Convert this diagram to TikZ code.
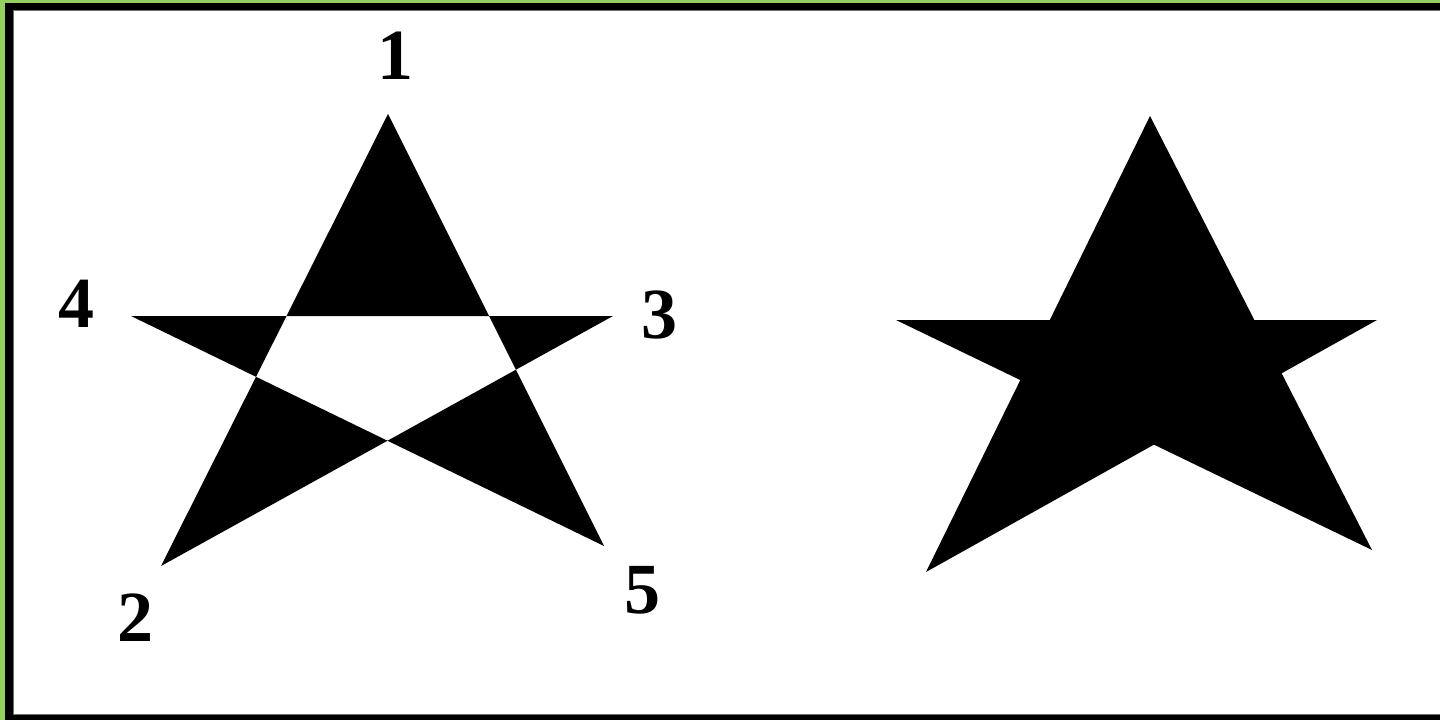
\documentclass[tikz,border=0pt]{standalone}
\usepackage{fontspec}
\setmainfont{Liberation Serif}
\definecolor{frameGreen}{RGB}{150,208,96}
\definecolor{frameGray}{RGB}{110,110,110}
\begin{document}
\begin{tikzpicture}[x=1pt,y=-1pt,
  lbl/.style={font=\fontsize{72}{72}\selectfont\bfseries, inner sep=0pt, text=black},
  starfill/.style={fill=black, draw=none}]
\useasboundingbox (0,0) rectangle (1440,720);
% frame
\fill[frameGreen] (0,0) rectangle (1440,720);
\fill[black] (5,3) rectangle (1440,720);
\fill[frameGray] (13,10) rectangle (1440,715);
\fill[white] (14,11) rectangle (1440,714);
% left star points
\coordinate (p1) at (388,114);
\coordinate (p2) at (161,566);
\coordinate (p3) at (613,316);
\coordinate (p4) at (131,316);
\coordinate (p5) at (604,546);
\fill[starfill, even odd rule] (p1) -- (p2) -- (p3) -- (p4) -- (p5) -- cycle;
% right star points
\coordinate (q1) at (1150,116);
\coordinate (q2) at (926,572);
\coordinate (q3) at (1377,320);
\coordinate (q4) at (896,320);
\coordinate (q5) at (1372,550);
\fill[starfill, nonzero rule] (q1) -- (q2) -- (q3) -- (q4) -- (q5) -- cycle;
% labels
\node[lbl] (l1) at (395,56) {1};
\node[lbl] (l4) at (76,304) {4};
\node[lbl] (l3) at (659,315) {3};
\node[lbl] (l2) at (135,618) {2};
\node[lbl] (l5) at (642,590) {5};
\end{tikzpicture}
\end{document}
